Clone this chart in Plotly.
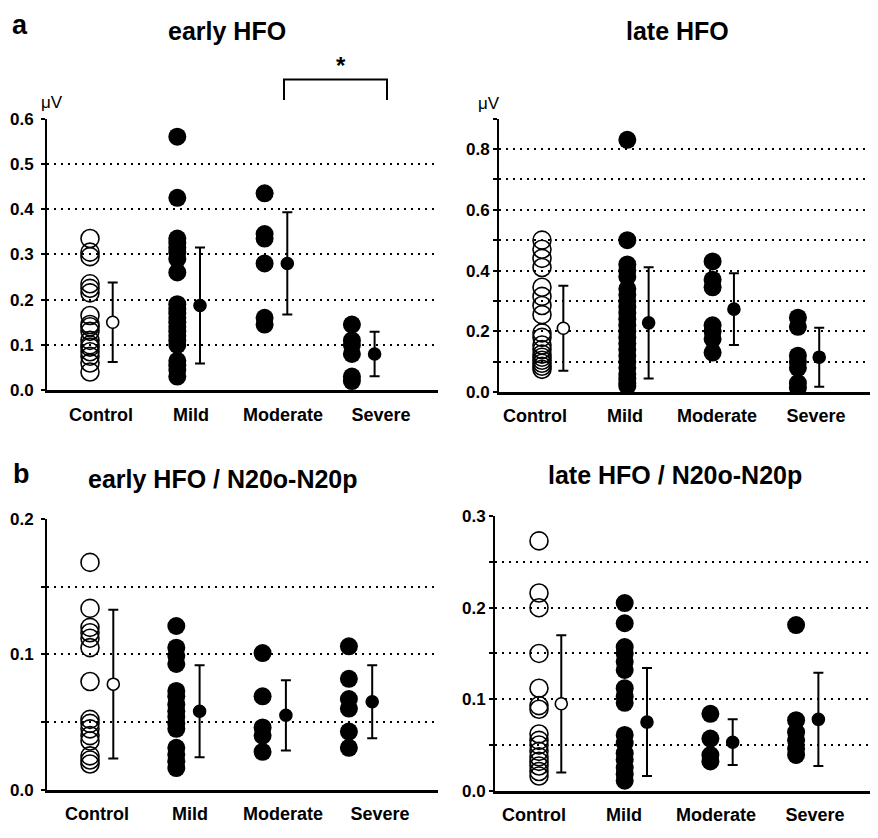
import plotly.graph_objects as go

# The page body has an 8px margin, so the figure is 16px smaller than the window
PAGE_W, PAGE_H = 878, 838
M = 8
W, H = PAGE_W - 2 * M, PAGE_H - 2 * M

groups = ["Control", "Mild", "Moderate", "Severe"]

# ---- a: early HFO (uV)
early_ctrl = [0.335, 0.305, 0.295, 0.235, 0.225, 0.215, 0.165, 0.145, 0.14, 0.13,
              0.11, 0.10, 0.095, 0.085, 0.075, 0.06, 0.04]
early_mild = [0.56, 0.425, 0.335, 0.325, 0.315, 0.305, 0.29, 0.26, 0.19, 0.18, 0.17,
              0.16, 0.15, 0.14, 0.13, 0.12, 0.11, 0.10, 0.065, 0.055, 0.045, 0.03]
early_mod = [0.435, 0.345, 0.335, 0.28, 0.16, 0.145]
early_sev = [0.145, 0.11, 0.10, 0.08, 0.03, 0.02]
early_mean = [0.15, 0.187, 0.28, 0.08]
early_sd = [0.088, 0.128, 0.113, 0.049]

# ---- a: late HFO (uV)
late_ctrl = [0.50, 0.47, 0.44, 0.41, 0.345, 0.315, 0.285, 0.255, 0.195, 0.18, 0.155,
             0.14, 0.125, 0.115, 0.105, 0.095, 0.085, 0.075]
late_mild = [0.83, 0.50, 0.42, 0.40, 0.38, 0.34, 0.32, 0.30, 0.28, 0.26, 0.24, 0.22,
             0.20, 0.18, 0.16, 0.14, 0.12, 0.10, 0.08, 0.06, 0.045, 0.03, 0.02]
late_mod = [0.43, 0.37, 0.345, 0.22, 0.20, 0.175, 0.13]
late_sev = [0.245, 0.215, 0.12, 0.10, 0.08, 0.03, 0.015]
late_mean = [0.21, 0.228, 0.273, 0.115]
late_sd = [0.14, 0.183, 0.118, 0.097]

# ---- b: early HFO / N20o-N20p
earlyn_ctrl = [0.168, 0.134, 0.12, 0.116, 0.112, 0.105, 0.08, 0.052, 0.049, 0.045,
               0.04, 0.036, 0.025, 0.022, 0.019]
earlyn_mild = [0.121, 0.105, 0.099, 0.093, 0.073, 0.069, 0.063, 0.058, 0.054, 0.049,
               0.045, 0.031, 0.026, 0.021, 0.016]
earlyn_mod = [0.101, 0.069, 0.046, 0.04, 0.028]
earlyn_sev = [0.106, 0.082, 0.067, 0.06, 0.043, 0.031]
earlyn_mean = [0.078, 0.058, 0.055, 0.065]
earlyn_sd = [0.055, 0.034, 0.026, 0.027]

# ---- b: late HFO / N20o-N20p
laten_ctrl = [0.273, 0.216, 0.200, 0.150, 0.112, 0.093, 0.089, 0.062, 0.055, 0.05,
              0.043, 0.037, 0.032, 0.027, 0.021, 0.016]
laten_mild = [0.205, 0.183, 0.157, 0.150, 0.141, 0.132, 0.112, 0.103, 0.096, 0.061,
              0.052, 0.041, 0.034, 0.025, 0.018, 0.011]
laten_mod = [0.084, 0.057, 0.039, 0.032]
laten_sev = [0.181, 0.077, 0.064, 0.055, 0.046, 0.039]
laten_mean = [0.095, 0.075, 0.053, 0.078]
laten_sd = [0.075, 0.059, 0.025, 0.051]

FONT = "Liberation Sans, Arial, Helvetica, sans-serif"


def px(x):
    return min(max((x - M) / W, 0.0), 1.0)


def py(y):
    return min(max(1 - (y - M) / H, 0.0), 1.0)


panels = [
    dict(title="early HFO", data=[early_ctrl, early_mild, early_mod, early_sev],
         mean=early_mean, sd=early_sd,
         xpx=(47, 438), ypx=(390, 112), spacing=87.3, first=90, meanoff=0.26,
         yr=[0, 0.6], yvals=[0, 0.1, 0.2, 0.3, 0.4, 0.5, 0.6],
         ytext=["0.0", "0.1", "0.2", "0.3", "0.4", "0.5", "0.6"],
         labx=[101, 191, 283, 381], tx=227, ty=22, ystand=4),
    dict(title="late HFO", data=[late_ctrl, late_mild, late_mod, late_sev],
         mean=late_mean, sd=late_sd,
         xpx=(499, 878), ypx=(392, 112), spacing=85.3, first=542, meanoff=0.25,
         yr=[0, 0.9], yvals=[0, 0.1, 0.2, 0.3, 0.4, 0.5, 0.6, 0.7, 0.8, 0.9],
         ytext=["0.0", "", "0.2", "", "0.4", "", "0.6", "", "0.8", ""],
         labx=[535, 625, 717, 816], tx=677, ty=22, ystand=0),
    dict(title="early HFO / N20o-N20p", data=[earlyn_ctrl, earlyn_mild, earlyn_mod, earlyn_sev],
         mean=earlyn_mean, sd=earlyn_sd,
         xpx=(47, 438), ypx=(799, 522), spacing=86.3, first=90, meanoff=0.27,
         yr=[0, 0.2], yvals=[0, 0.05, 0.1, 0.15, 0.2],
         ytext=["0.0", "", "0.1", "", "0.2"],
         labx=[97, 190, 283, 380], tx=223, ty=481, ystand=4),
    dict(title="late HFO / N20o-N20p", data=[laten_ctrl, laten_mild, laten_mod, laten_sev],
         mean=laten_mean, sd=laten_sd,
         xpx=(495, 878), ypx=(800, 519), spacing=85.7, first=539, meanoff=0.26,
         yr=[0, 0.3], yvals=[0, 0.05, 0.1, 0.15, 0.2, 0.25, 0.3],
         ytext=["0.0", "", "0.1", "", "0.2", "", "0.3"],
         labx=[534, 624, 716, 815], tx=675, ty=477, ystand=0),
]

fig = go.Figure()
layout = {}
annotations = []

for i, p in enumerate(panels):
    n = "" if i == 0 else str(i + 1)
    xa, ya = "x" + n, "y" + n
    for g, vals in enumerate(p["data"]):
        if g == 0:
            marker = dict(symbol="circle-open", size=18, color="black",
                          line=dict(color="black", width=1.6))
        else:
            marker = dict(symbol="circle", size=18, color="black",
                          line=dict(color="black", width=0))
        fig.add_trace(go.Scatter(x=[g] * len(vals), y=vals, mode="markers",
                                 marker=marker, xaxis=xa, yaxis=ya,
                                 showlegend=False, hoverinfo="y"))
    fig.add_trace(go.Scatter(
        x=[g + p["meanoff"] for g in range(4)], y=p["mean"], mode="markers",
        marker=dict(symbol="circle", size=12,
                    color=["white", "black", "black", "black"],
                    line=dict(color="black", width=1.6)),
        error_y=dict(type="data", array=p["sd"], visible=True, color="black",
                     thickness=2, width=5),
        xaxis=xa, yaxis=ya, showlegend=False, hoverinfo="y"))

    x0, x1 = p["xpx"]
    x1 = min(x1, M + W)
    lo = -(p["first"] - x0) / p["spacing"]
    hi = lo + (x1 - x0) / p["spacing"]
    tickv = [(lx - p["first"]) / p["spacing"] for lx in p["labx"]]
    layout["xaxis" + n] = dict(
        domain=[px(x0), px(x1)], range=[lo, hi], anchor=ya,
        showgrid=False, zeroline=False, showline=True, linecolor="black",
        linewidth=2.5, ticks="", tickvals=tickv, ticktext=groups,
        ticklabelstandoff=6,
        tickfont=dict(family=FONT, size=18, color="black", weight="bold"),
        fixedrange=True)
    layout["yaxis" + n] = dict(
        domain=[py(p["ypx"][0]), py(p["ypx"][1])], range=p["yr"], anchor=xa,
        showgrid=True, gridcolor="black", gridwidth=1.6, griddash="2px,5px",
        zeroline=False, showline=True, linecolor="black", linewidth=2,
        ticks="outside", ticklen=4, tickwidth=1.5, tickcolor="black",
        tickvals=p["yvals"], ticktext=p["ytext"], ticklabelstandoff=p["ystand"],
        tickfont=dict(family=FONT, size=17, color="black", weight="bold"),
        fixedrange=True)
    annotations.append(dict(
        x=px(p["tx"]), y=py(p["ty"]), xref="paper", yref="paper",
        text=p["title"], showarrow=False, xanchor="center", yanchor="middle",
        font=dict(family=FONT, size=25, color="black", weight="bold")))

# panel letters
annotations.append(dict(x=px(20), y=py(16), xref="paper", yref="paper", text="a",
                        showarrow=False, xanchor="center", yanchor="middle",
                        font=dict(family=FONT, size=27, color="black", weight="bold")))
annotations.append(dict(x=px(21), y=py(476), xref="paper", yref="paper", text="b",
                        showarrow=False, xanchor="center", yanchor="middle",
                        font=dict(family=FONT, size=27, color="black", weight="bold")))
# unit labels
annotations.append(dict(x=px(52), y=py(96), xref="paper", yref="paper", text="μV",
                        showarrow=False, xanchor="center", yanchor="middle",
                        font=dict(family=FONT, size=17, color="black")))
annotations.append(dict(x=px(489), y=py(97), xref="paper", yref="paper", text="μV",
                        showarrow=False, xanchor="center", yanchor="middle",
                        font=dict(family=FONT, size=17, color="black")))
# significance
annotations.append(dict(x=px(341), y=py(58), xref="paper", yref="paper", text="*",
                        showarrow=False, xanchor="center", yanchor="middle",
                        font=dict(family=FONT, size=24, color="black", weight="bold")))

shapes = [dict(type="path", xref="paper", yref="paper",
               path=f"M {px(284)} {py(93)} L {px(284)} {py(72)} L {px(387)} {py(72)} L {px(387)} {py(93)}",
               line=dict(color="black", width=2))]

fig.update_layout(
    width=W, height=H, margin=dict(l=0, r=0, t=0, b=0),
    paper_bgcolor="white", plot_bgcolor="white",
    annotations=annotations, shapes=shapes, **layout)

fig.write_html("out.html")
